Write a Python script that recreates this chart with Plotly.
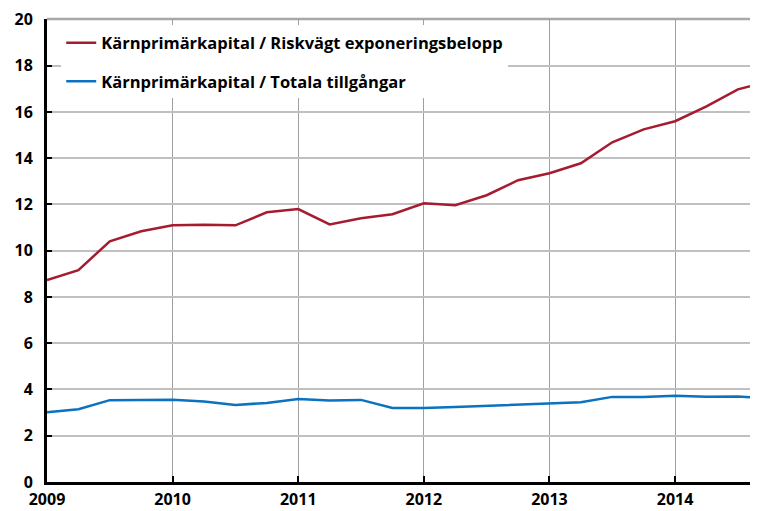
import plotly.graph_objects as go

quarters = [2009.0 + 0.25 * i for i in range(24)]
red_name = "Kärnprimärkapital / Riskvägt exponeringsbelopp"
blue_name = "Kärnprimärkapital / Totala tillgångar"
red_vals = [8.73, 9.16, 10.41, 10.84, 11.10, 11.12, 11.10, 11.66, 11.80, 11.14, 11.40, 11.58,
            12.05, 11.97, 12.40, 13.05, 13.35, 13.78, 14.69, 15.25, 15.60, 16.24, 16.98, 17.33]
blue_vals = [3.02, 3.15, 3.54, 3.55, 3.56, 3.48, 3.33, 3.42, 3.59, 3.52, 3.55, 3.20,
             3.20, 3.24, 3.29, 3.36, 3.41, 3.45, 3.68, 3.68, 3.73, 3.69, 3.70, 3.60]
year_ticks = [2009, 2010, 2011, 2012, 2013, 2014]
y_ticks = [0, 2, 4, 6, 8, 10, 12, 14, 16, 18, 20]

fnt = dict(family="Open Sans", size=16, color="black", weight="bold")
leg_fnt = dict(family="Open Sans", size=16.5, color="black", weight="bold")

fig = go.Figure()
fig.add_trace(go.Scatter(x=quarters, y=red_vals, mode="lines", name=red_name,
                         legendgroup="a", line=dict(color="#A51C30", width=2.5)))
fig.add_trace(go.Scatter(x=quarters, y=blue_vals, mode="lines", name=blue_name,
                         legendgroup="b", line=dict(color="#0A72BE", width=2.5)))

# top frame line of the plot area (gray, like the reference)
fig.add_shape(type="line", xref="x domain", yref="y domain", x0=0, x1=1, y0=1, y1=1,
              line=dict(color="#a8a8a8", width=2.5), layer="below")

# the page body has an 8px margin, so the figure is sized to fill the window from (8, 8)
fig.update_layout(
    width=750, height=503,
    margin=dict(l=39, r=0, t=11, b=29, pad=0),
    paper_bgcolor="white", plot_bgcolor="white",
    font=fnt,
    showlegend=True,
    legend=dict(x=0.02, y=0.986, xanchor="left", yanchor="top",
                bgcolor="white", font=leg_fnt, itemwidth=30,
                traceorder="grouped", tracegroupgap=14),
    xaxis=dict(range=[2009, 2014.66], tickvals=year_ticks, ticktext=[str(v) for v in year_ticks],
               showgrid=True, gridcolor="#a0a0a0", gridwidth=1,
               showline=True, linecolor="black", linewidth=3,
               ticks="inside", ticklen=6, tickwidth=2, tickcolor="black",
               ticklabelstandoff=1,
               zeroline=False, tickfont=fnt, automargin=False),
    yaxis=dict(range=[0, 20.02], tickvals=y_ticks,
               showgrid=True, gridcolor="#c0c0c0", gridwidth=1.5,
               showline=True, linecolor="black", linewidth=3,
               ticks="inside", ticklen=5, tickwidth=2, tickcolor="black",
               ticklabelstandoff=8,
               zeroline=False, tickfont=fnt, automargin=False),
)

fig.write_html("out.html")
